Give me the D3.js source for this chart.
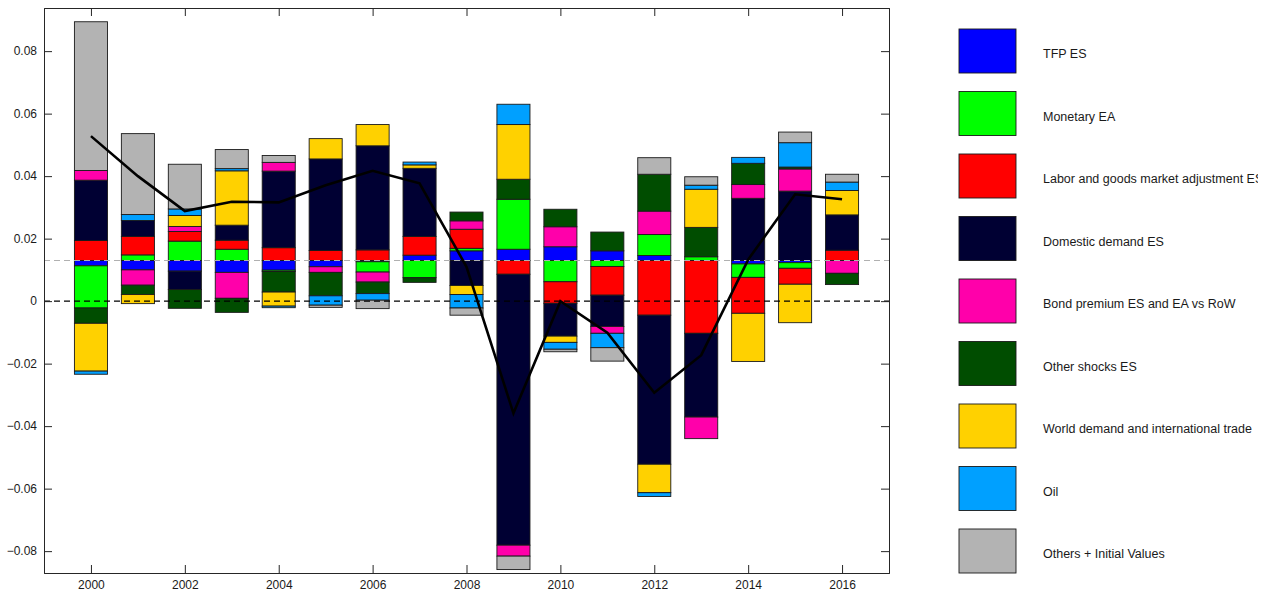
<!DOCTYPE html>
<html>
<head>
<meta charset="utf-8">
<script src="https://cdn.jsdelivr.net/npm/d3@7"></script>
<style>
  html, body { margin: 0; padding: 0; background: #ffffff; }
  svg { display: block; font-family: "Liberation Sans", Arial, Helvetica, sans-serif; }
</style>
</head>
<body>
<svg id="chart" width="1273" height="598"></svg>
<script>
// Shock decomposition, 2000-2016: contributions stacked around the initial value
const years = [2000, 2001, 2002, 2003, 2004, 2005, 2006, 2007, 2008,
               2009, 2010, 2011, 2012, 2013, 2014, 2015, 2016];

const shockNames = [
  "TFP ES",
  "Monetary EA",
  "Labor and goods market adjustment ES",
  "Domestic demand ES",
  "Bond premium ES and EA vs RoW",
  "Other shocks ES",
  "World demand and international trade",
  "Oil",
  "Others + Initial Values"
];

const shockColors = ["#0000ff", "#00ff00", "#ff0000", "#000033", "#ff00aa",
                     "#004d00", "#ffd100", "#00a0ff", "#b3b3b3"];

const tfpES       = [-0.0017, -0.0030, -0.0034, -0.0038, -0.0031, -0.0020, -0.0004, 0.0017, 0.0031,
                      0.0036,  0.0044,  0.0031,  0.0016,  0.0000, -0.0011, -0.0007, 0.0000];
const monetaryEA  = [-0.0135,  0.0018,  0.0062,  0.0036, -0.0004,  0.0000, -0.0033, -0.0055, 0.0008,
                      0.0160, -0.0068, -0.0019,  0.0067,  0.0012, -0.0043, -0.0018, 0.0000];
const laborGoods  = [ 0.0064,  0.0059,  0.0031,  0.0029,  0.0041,  0.0032,  0.0034,  0.0060, 0.0061,
                     -0.0044, -0.0069, -0.0092, -0.0175, -0.0233, -0.0115, -0.0051, 0.0033];
const domestic    = [ 0.0193,  0.0051, -0.0059,  0.0048,  0.0245,  0.0293,  0.0333,  0.0218, -0.0080,
                     -0.0867, -0.0105, -0.0100, -0.0477, -0.0268,  0.0199,  0.0222, 0.0113];
const bondPremium = [ 0.0031, -0.0049,  0.0016, -0.0083,  0.0028, -0.0018, -0.0032,  0.0000, 0.0027,
                     -0.0035,  0.0064, -0.0022,  0.0075, -0.0069,  0.0044,  0.0071, -0.0041];
const otherShocks = [-0.0049, -0.0030, -0.0060, -0.0045, -0.0066, -0.0075, -0.0037, -0.0015, 0.0028,
                      0.0064,  0.0056,  0.0060,  0.0118,  0.0094,  0.0068,  0.0006, -0.0036];
const worldDemand = [-0.0153, -0.0029,  0.0035,  0.0174, -0.0045,  0.0065,  0.0068,  0.0011, -0.0029,
                      0.0175, -0.0020,  0.0000, -0.0091,  0.0122, -0.0154, -0.0123, 0.0078];
const oil         = [-0.0010,  0.0019,  0.0021,  0.0007, -0.0005, -0.0030, -0.0021,  0.0009, -0.0043,
                      0.0065, -0.0022, -0.0046, -0.0012,  0.0013,  0.0019,  0.0078, 0.0027];
const othersInit  = [ 0.0476,  0.0259,  0.0143,  0.0061,  0.0022, -0.0007, -0.0027,  0.0000, -0.0023,
                     -0.0043, -0.0008, -0.0043,  0.0053,  0.0027,  0.0000,  0.0034, 0.0025];

// Observed series (black line) and the level around which contributions are stacked
const observed = [0.0528, 0.0400, 0.0288, 0.0318, 0.0316, 0.0371, 0.0417, 0.0377, 0.0110,
                  -0.0359, 0.0000, -0.0101, -0.0293, -0.0173, 0.0133, 0.0342, 0.0326];
const initialLevel = 0.013;

const yTicks = [-0.08, -0.06, -0.04, -0.02, 0, 0.02, 0.04, 0.06, 0.08];
const xTicks = [2000, 2002, 2004, 2006, 2008, 2010, 2012, 2014, 2016];

const seriesValues = [tfpES, monetaryEA, laborGoods, domestic, bondPremium,
                      otherShocks, worldDemand, oil, othersInit];

// Rows for d3.stack
const rows = years.map((yr, i) => {
  const r = { year: yr };
  shockNames.forEach((name, k) => { r[name] = seriesValues[k][i]; });
  return r;
});

const svg = d3.select("#chart");
const plot = { left: 44, right: 889, top: 8, bottom: 573 };

const x = d3.scaleLinear().domain([1999, 2017]).range([plot.left, plot.right]);
const y = d3.scaleLinear().domain([-0.0870, 0.0938]).range([plot.bottom, plot.top]);

const stacked = d3.stack()
  .keys(shockNames)
  .offset(d3.stackOffsetDiverging)(rows);

const barHalf = 0.352;

const barsG = svg.append("g");

stacked.forEach((layer, k) => {
  barsG.append("g")
    .selectAll("rect")
    .data(layer.filter(d => d[1] !== d[0]))
    .join("rect")
    .attr("x", d => x(d.data.year - barHalf))
    .attr("width", d => x(d.data.year + barHalf) - x(d.data.year - barHalf))
    .attr("y", d => y(Math.max(d[0], d[1]) + initialLevel))
    .attr("height", d => Math.abs(y(d[0] + initialLevel) - y(d[1] + initialLevel)))
    .attr("fill", shockColors[k])
    .attr("stroke", "#1a1a1a")
    .attr("stroke-width", 0.9);
});

// Reference lines: zero and initial level
svg.append("line")
  .attr("x1", plot.left).attr("x2", plot.right)
  .attr("y1", y(initialLevel)).attr("y2", y(initialLevel))
  .attr("stroke", "#b0b0b0").attr("stroke-width", 1)
  .attr("stroke-dasharray", "6,4");

svg.append("line")
  .attr("x1", plot.left).attr("x2", plot.right)
  .attr("y1", y(0)).attr("y2", y(0))
  .attr("stroke", "#000").attr("stroke-width", 1.3)
  .attr("stroke-dasharray", "6,4");

// Observed series
svg.append("path")
  .datum(years.map((yr, i) => [yr, observed[i]]))
  .attr("fill", "none")
  .attr("stroke", "#000")
  .attr("stroke-width", 2.6)
  .attr("stroke-linejoin", "miter")
  .attr("d", d3.line().x(d => x(d[0])).y(d => y(d[1])));

// Axes with inward ticks on all four sides
const fmtY = v => v === 0 ? "0" : d3.format(".2f")(v);
const axisColor = "#262626";

const axisL = svg.append("g")
  .attr("transform", `translate(${plot.left},0)`)
  .call(d3.axisLeft(y).tickValues(yTicks).tickSize(-8).tickPadding(7).tickFormat(fmtY));
const axisR = svg.append("g")
  .attr("transform", `translate(${plot.right},0)`)
  .call(d3.axisRight(y).tickValues(yTicks).tickSize(-8).tickFormat(""));
const axisB = svg.append("g")
  .attr("transform", `translate(0,${plot.bottom})`)
  .call(d3.axisBottom(x).tickValues(xTicks).tickSize(-8).tickPadding(6).tickFormat(d3.format("d")));
const axisT = svg.append("g")
  .attr("transform", `translate(0,${plot.top})`)
  .call(d3.axisTop(x).tickValues(xTicks).tickSize(-8).tickFormat(""));

[axisL, axisR, axisB, axisT].forEach(a => {
  a.select(".domain").attr("stroke", axisColor).attr("stroke-width", 1);
  a.selectAll(".tick line").attr("stroke", axisColor).attr("stroke-width", 1);
  a.selectAll(".tick text")
    .attr("fill", "#1a1a1a")
    .style("font-family", "'Liberation Sans', Arial, sans-serif")
    .style("font-size", "12px");
});
axisB.selectAll(".tick text").attr("dy", "0.85em");

// Legend
svg.append("defs").append("clipPath").attr("id", "legendClip")
  .append("rect").attr("x", 930).attr("y", 0).attr("width", 328).attr("height", 598);

const legend = svg.append("g").attr("clip-path", "url(#legendClip)");
const legendY = d3.scaleLinear().domain([0, 8]).range([29, 529]);

shockNames.forEach((name, k) => {
  const row = legend.append("g").attr("transform", `translate(0,${legendY(k)})`);
  row.append("rect")
    .attr("x", 959).attr("y", 0)
    .attr("width", 57).attr("height", 44)
    .attr("fill", shockColors[k])
    .attr("stroke", "#1a1a1a").attr("stroke-width", 0.9);
  row.append("text")
    .attr("x", 1043).attr("y", 25)
    .attr("dy", "0.35em")
    .attr("fill", "#1a1a1a")
    .style("font-size", "12.5px")
    .text(name);
});
</script>
</body>
</html>
